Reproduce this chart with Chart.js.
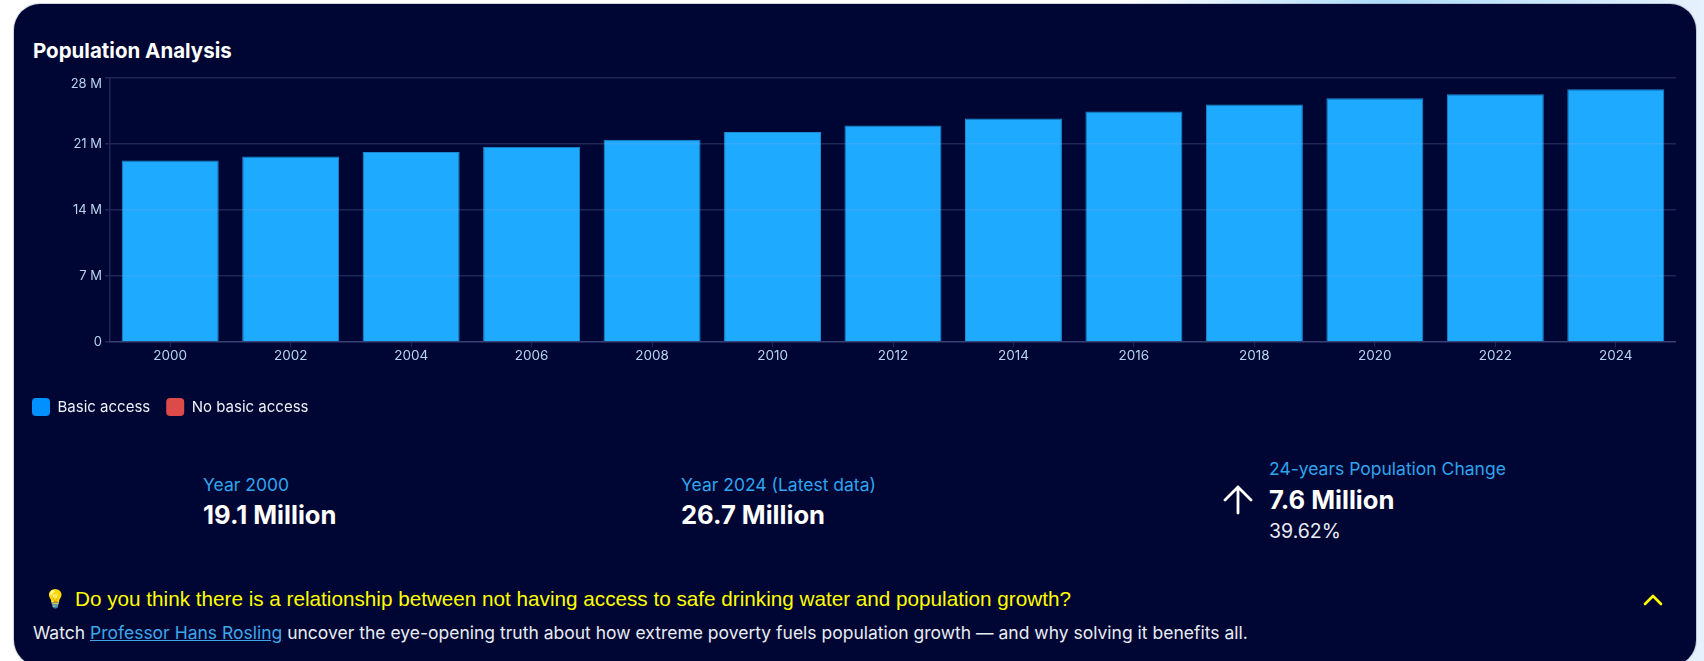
<!DOCTYPE html>
<html>
<head>
<meta charset="utf-8">
<title>Population Analysis</title>
<script src="https://cdn.jsdelivr.net/npm/chart.js@4"></script>
<style>
  html, body { margin: 0; padding: 0; width: 1704px; height: 661px; overflow: hidden; }
  body { background: linear-gradient(90deg, #ffffff 0%, #ffffff 66%, #aedcfa 81%, #e6f2fc 100%); font-family: Inter, sans-serif; }
  .card { position: absolute; left: 14px; top: 4px; width: 1682px; height: 662px; background: #000633; border-radius: 26px; box-shadow: 0 0 0 1px rgba(120,130,150,.35); }
  .t { position: absolute; white-space: nowrap; }
  .title { left: 33px; top: 39px; font-size: 20.5px; line-height: 24px; font-weight: 700; color: #fff; }
  .lab { font-size: 17.5px; line-height: 20px; color: #2fa4ee; }
  .big { font-size: 25.6px; line-height: 30px; font-weight: 700; color: #fff; }
  .pct { font-size: 19.5px; line-height: 24px; color: #e8ecf4; }
  .q { left: 75px; top: 587px; font-family: "Liberation Sans", sans-serif; font-size: 20.7px; line-height: 24px; color: #ffff00; }
  .bulb { left: 44px; top: 587px; font-size: 18px; line-height: 24px; }
  .note { left: 33px; top: 622px; font-size: 17.5px; line-height: 22px; color: #e8ecf4; }
  .note a { color: #3ea6e8; text-decoration: underline; }
  #wrap { position: absolute; left: 16px; top: 59px; width: 1660px; height: 367px; }
  svg { position: absolute; }
</style>
</head>
<body>
<div class="card"></div>
<div class="t title">Population Analysis</div>
<div id="wrap"><canvas id="populationChart"></canvas></div>

<div class="t lab" style="left:203px;top:475px">Year 2000</div>
<div class="t big" style="left:203px;top:500px">19.1 Million</div>
<div class="t lab" style="left:681px;top:475px">Year 2024 (Latest data)</div>
<div class="t big" style="left:681px;top:500px">26.7 Million</div>
<div class="t lab" style="left:1269px;top:459px">24-years Population Change</div>
<div class="t big" style="left:1269px;top:485px">7.6 Million</div>
<div class="t pct" style="left:1269px;top:519px">39.62%</div>
<svg style="left:1222px;top:484px" width="32" height="32" viewBox="0 0 32 32" fill="none" stroke="#fff" stroke-width="2.8" stroke-linecap="round" stroke-linejoin="round"><path d="M16 29V3M3 16L16 3l13 13"/></svg>

<div class="t bulb">💡</div>
<div class="t q">Do you think there is a relationship between not having access to safe drinking water and population growth?</div>
<svg style="left:1642px;top:592px" width="22" height="16" viewBox="0 0 22 16" fill="none" stroke="#ffff00" stroke-width="2.6" stroke-linecap="round" stroke-linejoin="round"><path d="M3 12l8-8 8 8"/></svg>
<div class="t note">Watch <a href="#">Professor Hans Rosling</a> uncover the eye-opening truth about how extreme poverty fuels population growth — and why solving it benefits all.</div>

<script>
const years = ['2000','2002','2004','2006','2008','2010','2012','2014','2016','2018','2020','2022','2024'];
const basicAccess = [19250000,19680000,20150000,20700000,21460000,22270000,22960000,23700000,24460000,25200000,25850000,26270000,26800000];
const noBasicAccess = [];
const yTicks = [0,7000000,14000000,21000000,28000000];

const tickColor = '#b6d4ef';
const gridColor = 'rgba(150,170,230,0.2)';

new Chart(document.getElementById('populationChart'), {
    type: 'bar',
    data: {
        labels: years,
        datasets: [
            { label: 'Basic access', data: basicAccess, backgroundColor: '#1eaaff', borderColor: '#1a8ad2', borderWidth: 1 },
            { label: 'No basic access', data: noBasicAccess, backgroundColor: '#dd4a4a' }
        ]
    },
    options: {
        responsive: true,
        maintainAspectRatio: false,
        animation: false,
        layout: { padding: { top: 19 } },
        datasets: { bar: { grouped: false, barPercentage: 0.805, categoryPercentage: 1 } },
        plugins: {
            title: { display: false },
            tooltip: { enabled: false },
            legend: {
                position: 'bottom',
                align: 'start',
                labels: {
                    boxWidth: 18,
                    boxHeight: 18,
                    padding: 16,
                    useBorderRadius: true,
                    borderRadius: 4,
                    color: '#eef1f7',
                    font: { family: 'Inter', size: 15 },
                    generateLabels: chart => chart.data.datasets.map((ds, i) => ({
                        text: ds.label,
                        fillStyle: i === 0 ? '#0090ff' : ds.backgroundColor,
                        strokeStyle: 'transparent',
                        lineWidth: 0,
                        fontColor: '#eef1f7',
                        borderRadius: 4,
                        datasetIndex: i
                    }))
                }
            }
        },
        scales: {
            x: {
                afterFit: scale => { scale.height = 40; },
                grid: { drawOnChartArea: false, color: gridColor, tickLength: 5, offset: false },
                border: { color: gridColor, width: 1.5 },
                ticks: { color: tickColor, autoSkip: false, maxRotation: 0, padding: 1, font: { family: 'Inter', size: 13.5 } }
            },
            y: {
                min: 0,
                max: 28000000,
                afterFit: scale => { scale.width = 94; },
                afterBuildTicks: scale => { scale.ticks = yTicks.map(v => ({ value: v })); },
                grid: { color: gridColor, z: 1, tickLength: 5, lineWidth: 1.5 },
                // same z as the grid, otherwise the border is drawn before its position is known
                border: { color: gridColor, width: 1.5, z: 1 },
                ticks: {
                    color: tickColor,
                    padding: 3,
                    font: { family: 'Inter', size: 13, lineHeight: 1 },
                    // top label sits just under its gridline
                    callback: v => {
                        if (v === 0) return '0';
                        const s = (v / 1000000) + ' M';
                        return v === 28000000 ? ['', s] : s;
                    }
                }
            }
        }
    }
});
</script>
</body>
</html>
